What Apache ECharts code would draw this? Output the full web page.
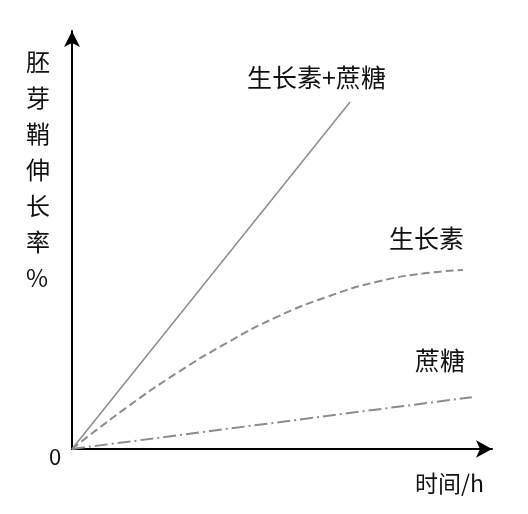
<!DOCTYPE html>
<html>
<head>
<meta charset="utf-8">
<script src="https://cdn.jsdelivr.net/npm/echarts@6/dist/echarts.min.js"></script>
<style>html,body{margin:0;padding:0;background:#fff;}#c{width:528px;height:514px;}</style>
</head>
<body>
<div id="c"></div>
<script>
// Data (relative units)
const timeBoth = [0, 6.62];
const rateBoth = [0, 8.30];
const timeAuxin = [0, 1.31, 2.5, 3.69, 4.88, 6.07, 7.26, 8.45, 9.31];
const rateAuxin = [0, 1.00, 1.82, 2.54, 3.16, 3.64, 4.00, 4.21, 4.28];
const timeSucrose = [0, 9.52];
const rateSucrose = [0, 1.24];
const seriesNames = ['生长素+蔗糖', '生长素', '蔗糖'];
const yAxisTitle = '胚芽鞘伸长率%';
const xAxisTitle = '时间/h';
const originLabel = '0';

const zip = (xs, ys) => xs.map((x, i) => [x, ys[i]]);
const FONT = '"Noto Sans CJK SC", "Noto Sans", sans-serif';

const chart = echarts.init(document.getElementById('c'));
chart.setOption({
  animation: false,
  backgroundColor: '#fff',
  grid: { left: 72, right: 36, top: 31, bottom: 65 },
  xAxis: {
    type: 'value', min: 0, max: 10,
    axisLine: { show: true, symbol: ['none', 'arrow'], symbolSize: [13, 16], lineStyle: { color: '#000', width: 2 } },
    axisTick: { show: false }, axisLabel: { show: false }, splitLine: { show: false }
  },
  yAxis: {
    type: 'value', min: 0, max: 10,
    axisLine: { show: true, symbol: ['none', 'arrow'], symbolSize: [12, 16], lineStyle: { color: '#000', width: 2 } },
    axisTick: { show: false }, axisLabel: { show: false }, splitLine: { show: false }
  },
  series: [
    { name: seriesNames[0], type: 'line', data: zip(timeBoth, rateBoth), showSymbol: false, z: 1,
      lineStyle: { color: '#8c8c8c', width: 1.5, type: 'solid' } },
    { name: seriesNames[1], type: 'line', data: zip(timeAuxin, rateAuxin), showSymbol: false, smooth: true, z: 1,
      lineStyle: { color: '#8c8c8c', width: 2, type: [8, 4] } },
    { name: seriesNames[2], type: 'line', data: zip(timeSucrose, rateSucrose), showSymbol: false, z: 1,
      lineStyle: { color: '#8c8c8c', width: 2, type: [13, 4, 2, 4] } }
  ],
  graphic: [
    { type: 'text', left: 26, top: 44, style: { text: yAxisTitle.split('').join('\n'), font: '24px ' + FONT, lineHeight: 36, fill: '#111', align: 'center' } },
    { type: 'text', x: 55, y: 457, style: { text: originLabel, font: '22px ' + FONT, fill: '#111', align: 'center', verticalAlign: 'middle' } },
    { type: 'text', x: 415, y: 483, style: { text: xAxisTitle, font: '23px ' + FONT, fill: '#111', verticalAlign: 'middle' } },
    { type: 'text', x: 247, y: 77, style: { text: seriesNames[0], font: '25px ' + FONT, fill: '#111', verticalAlign: 'middle' } },
    { type: 'text', x: 389, y: 238, style: { text: seriesNames[1], font: '25px ' + FONT, fill: '#111', verticalAlign: 'middle' } },
    { type: 'text', x: 415, y: 360, style: { text: seriesNames[2], font: '25px ' + FONT, fill: '#111', verticalAlign: 'middle' } }
  ]
});
</script>
</body>
</html>
